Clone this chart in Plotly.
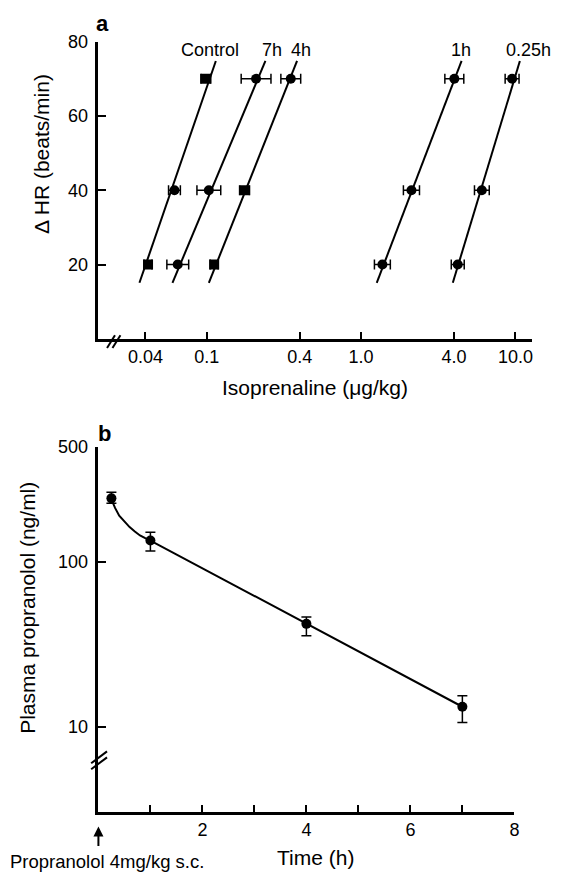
import plotly.graph_objects as go

W, H = 561, 872
def px(x):
    return x / W
def py(y):
    return 1 - y / H

FONT = "Liberation Sans, Arial, Helvetica, sans-serif"

# ---------------- Panel a data ----------------
hr_levels = [20, 40, 70]
series_names = ["Control", "7h", "4h", "1h", "0.25h"]

dose_control = [0.0416, 0.0617, 0.0985]
lo_control = [0.0392, 0.0565, 0.0915]
hi_control = [0.0441, 0.0674, 0.1061]

dose_7h = [0.0648, 0.1031, 0.2086]
lo_7h = [0.0551, 0.0863, 0.167]
hi_7h = [0.0763, 0.1231, 0.2605]

dose_4h = [0.1116, 0.1757, 0.350]
lo_4h = [0.1052, 0.1631, 0.302]
hi_4h = [0.1184, 0.1892, 0.406]

dose_1h = [1.374, 2.12, 4.02]
lo_1h = [1.22, 1.88, 3.49]
hi_1h = [1.547, 2.39, 4.63]

dose_025h = [4.23, 6.06, 9.52]
lo_025h = [3.84, 5.43, 8.58]
hi_025h = [4.66, 6.77, 10.56]

# fitted regression lines (ends)
fit_hr = [15.1, 74.8]
fit_control = [0.0366, 0.1144]
fit_7h = [0.0599, 0.2398]
fit_4h = [0.1031, 0.3845]
fit_1h = [1.263, 4.48]
fit_025h = [3.93, 10.69]

sym_control = ["square", "circle", "square"]
sym_7h = ["circle", "circle", "circle"]
sym_4h = ["square", "square", "circle"]
sym_1h = ["circle", "circle", "circle"]
sym_025h = ["circle", "circle", "circle"]

xa_tickvals = [0.04, 0.1, 0.4, 1.0, 4.0, 10.0]
xa_ticktext = ["0.04", "0.1", "0.4", "1.0", "4.0", "10.0"]
ya_tickvals = [20, 40, 60, 80]

# ---------------- Panel b data ----------------
time_h = [0.25, 1, 4, 7]
conc = [243.6, 135, 42.1, 13.2]
conc_lo = [227.5, 116.7, 35.6, 10.6]
conc_hi = [265, 151.7, 46.4, 15.4]

curve_t = [0.25, 0.32, 0.4, 0.5, 0.6, 0.7, 0.8, 0.9, 1.0, 7.0]
curve_c = [240, 213, 191, 175, 163, 153, 145, 139.5, 135, 13.2]

xb_tickvals = [0, 1, 2, 3, 4, 5, 6, 7, 8]
xb_ticktext = ["", "", "2", "", "4", "", "6", "", "8"]
yb_tickvals = [10, 100, 500]
yb_ticktext = ["10", "100", "500"]

fig = go.Figure()

groups = [
    (dose_control, lo_control, hi_control, fit_control, sym_control),
    (dose_7h, lo_7h, hi_7h, fit_7h, sym_7h),
    (dose_4h, lo_4h, hi_4h, fit_4h, sym_4h),
    (dose_1h, lo_1h, hi_1h, fit_1h, sym_1h),
    (dose_025h, lo_025h, hi_025h, fit_025h, sym_025h),
]

for name, (d, lo, hi, fit, sym) in zip(series_names, groups):
    fig.add_trace(go.Scatter(
        x=fit, y=fit_hr, mode="lines", line=dict(color="black", width=2),
        xaxis="x", yaxis="y", showlegend=False, hoverinfo="skip"))
    fig.add_trace(go.Scatter(
        x=d, y=hr_levels, mode="markers", name=name,
        marker=dict(color="black", size=10, symbol=sym),
        error_x=dict(type="data", symmetric=False,
                     array=[h - v for h, v in zip(hi, d)],
                     arrayminus=[v - l for l, v in zip(lo, d)],
                     color="black", thickness=1.5, width=5),
        xaxis="x", yaxis="y", showlegend=False))

fig.add_trace(go.Scatter(
    x=curve_t, y=curve_c, mode="lines", line=dict(color="black", width=2),
    xaxis="x2", yaxis="y2", showlegend=False, hoverinfo="skip"))
fig.add_trace(go.Scatter(
    x=time_h, y=conc, mode="markers",
    marker=dict(color="black", size=10),
    error_y=dict(type="data", symmetric=False,
                 array=[h - v for h, v in zip(conc_hi, conc)],
                 arrayminus=[v - l for l, v in zip(conc_lo, conc)],
                 color="black", thickness=1.5, width=5),
    xaxis="x2", yaxis="y2", showlegend=False))

axis_common = dict(showline=True, linecolor="black", linewidth=2.5,
                   ticks="inside", tickcolor="black", tickwidth=2,
                   showgrid=False, zeroline=False,
                   tickfont=dict(family=FONT, size=18, color="black"))

fig.update_layout(
    width=W, height=H,
    margin=dict(l=0, r=0, t=0, b=0),
    paper_bgcolor="white", plot_bgcolor="white",
    font=dict(family=FONT, color="black"),
    xaxis=dict(type="log", range=[-1.7025, 1.109],
               domain=[px(99.3), px(537)], anchor="y",
               tickvals=xa_tickvals, ticktext=xa_ticktext, ticklen=7,
               ticklabelstandoff=0, **axis_common),
    yaxis=dict(range=[0, 80], domain=[py(332.7), py(32)], anchor="x",
               tickvals=ya_tickvals, ticklen=8, ticklabelstandoff=4,
               **axis_common),
    xaxis2=dict(range=[0, 8], domain=[px(99.3), px(519)], anchor="y2",
                tickvals=xb_tickvals, ticktext=xb_ticktext, ticklen=7,
                ticklabelstandoff=0, **axis_common),
    yaxis2=dict(type="log", range=[0.483, 2.699],
                domain=[py(811), py(442)], anchor="x2",
                tickvals=yb_tickvals, ticktext=yb_ticktext, ticklen=8,
                ticklabelstandoff=4, **axis_common),
)

# axis break marks
shapes = []
for dx in (0, 5.5):
    shapes.append(dict(type="line", xref="paper", yref="paper",
                       x0=px(108 + dx), y0=py(342), x1=px(116 + dx), y1=py(329),
                       line=dict(color="black", width=2)))
for dy in (0, 6):
    shapes.append(dict(type="line", xref="paper", yref="paper",
                       x0=px(92), y0=py(762 + dy), x1=px(108), y1=py(750 + dy),
                       line=dict(color="black", width=2)))
fig.update_layout(shapes=shapes)

ann = []
def text(x, y, t, size, bold=False, angle=0, xanchor="center"):
    ann.append(dict(x=px(x), y=py(y), xref="paper", yref="paper",
                    text=("<b>%s</b>" % t) if bold else t, showarrow=False,
                    textangle=angle, xanchor=xanchor, yanchor="middle",
                    font=dict(family=FONT, size=size, color="black")))

text(103, 14, "a", 22, bold=True)
text(105, 428, "b", 22, bold=True)
label_x = [211.7, 274, 304, 465, 533]
for name, lx in zip(series_names, label_x):
    text(lx, 40, name, 18)
text(42, 146, "\u0394 HR (beats/min)", 21, angle=-90)
text(27, 605, "Plasma propranolol (ng/ml)", 21, angle=-90)
text(318, 382, "Isoprenaline (\u03bcg/kg)", 21)
text(318, 857, "Time (h)", 21)
text(108, 861, "Propranolol 4mg/kg s.c.", 18.5)
ann.append(dict(x=px(99.3), y=py(826), xref="paper", yref="paper",
                ax=0, ay=21, axref="pixel", ayref="pixel", text="",
                showarrow=True, arrowhead=2, arrowsize=1, arrowwidth=2,
                arrowcolor="black"))
fig.update_layout(annotations=ann)

fig.write_html("out.html",
               config={"displayModeBar": False},
               post_script="document.body.style.margin='0';"
                           "document.body.style.padding='0';")
